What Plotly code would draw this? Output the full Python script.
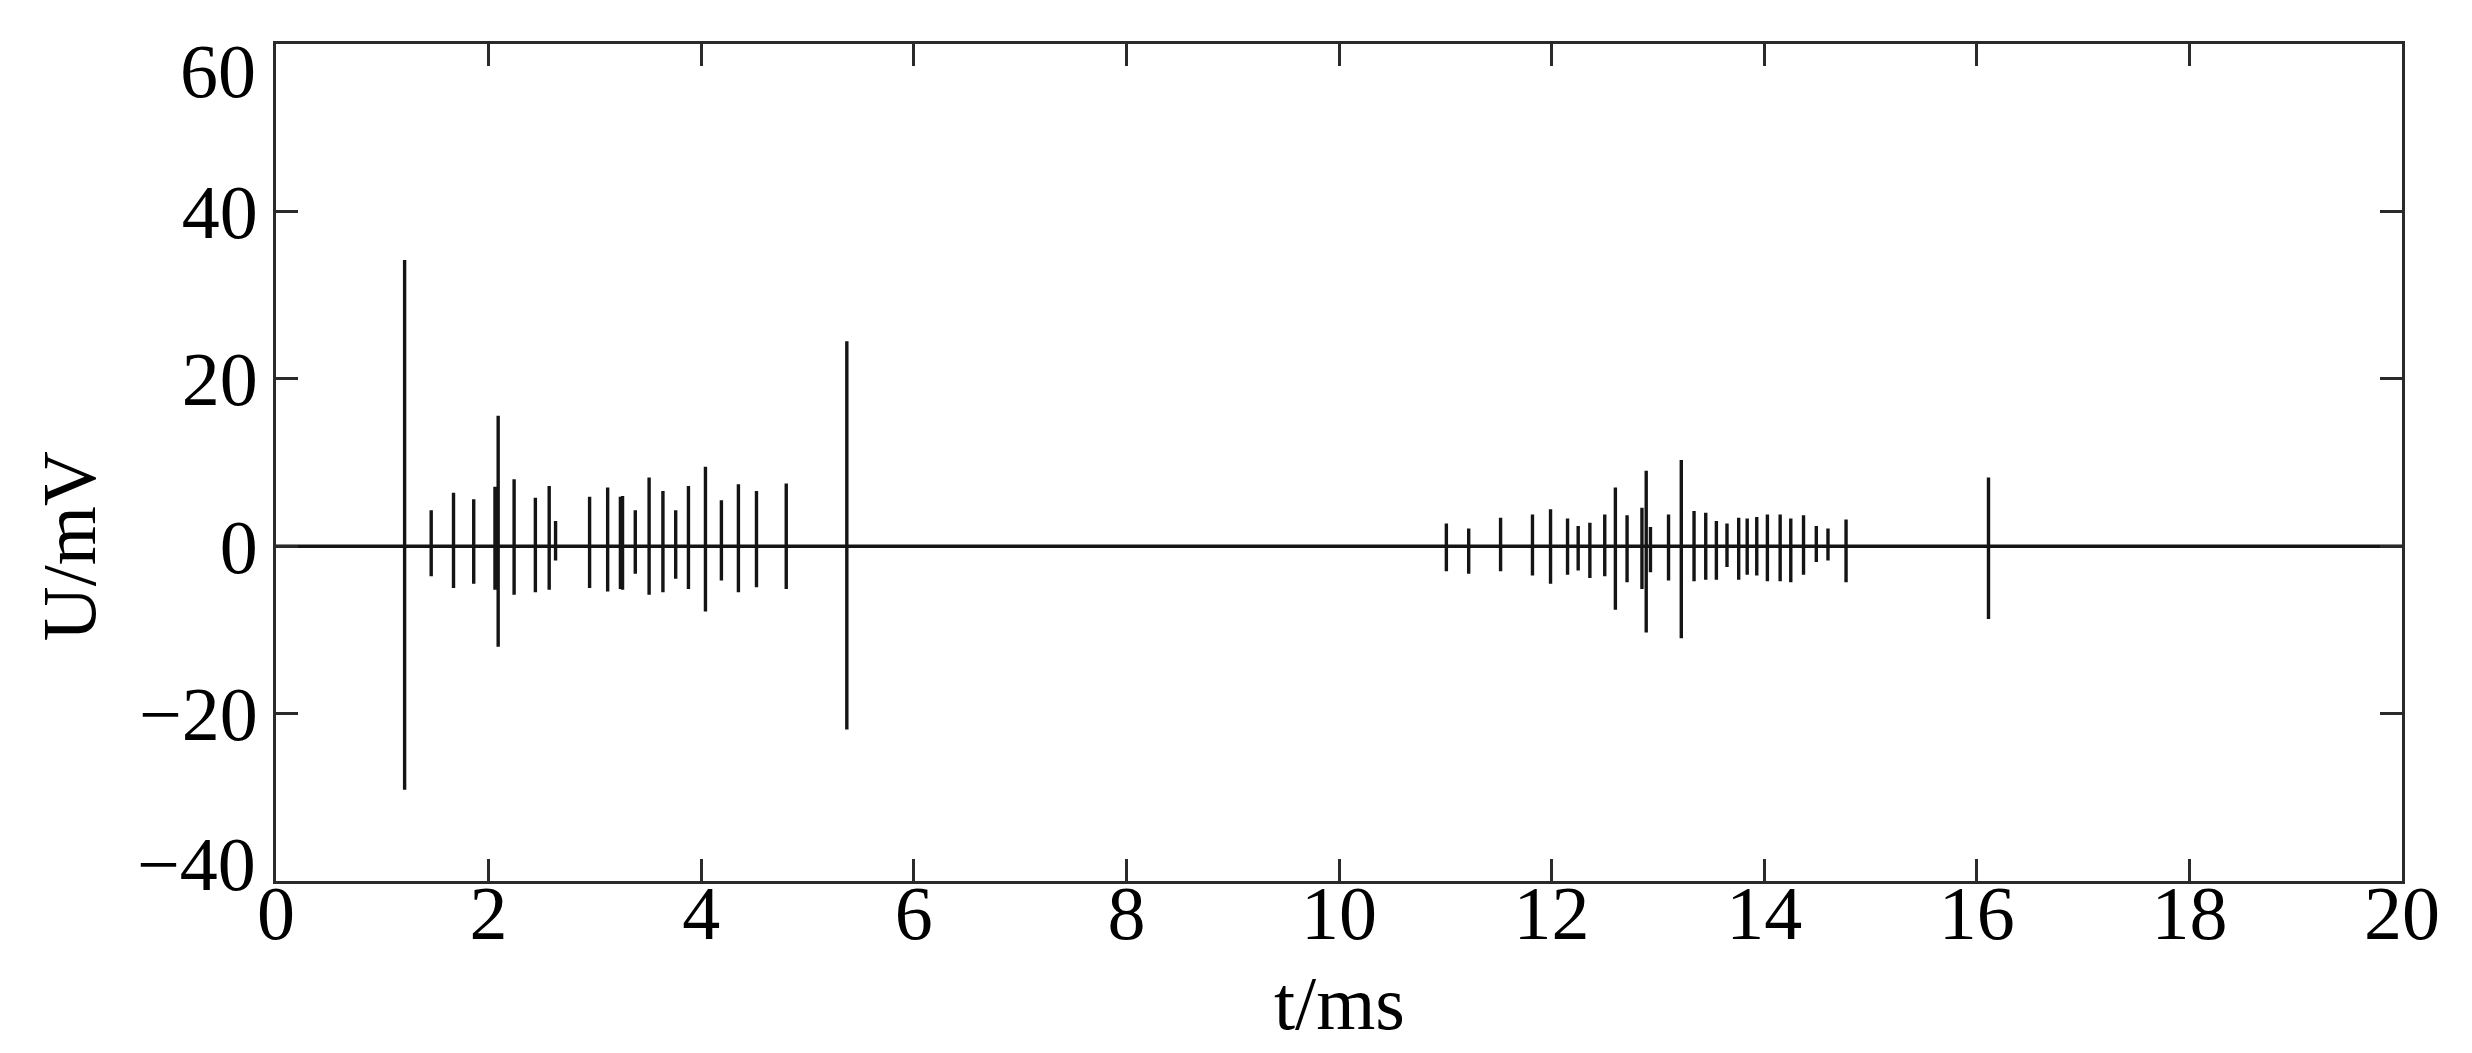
import plotly.graph_objects as go

# Spike events: time (ms), positive peak (mV), negative trough (mV)
spike_t = [1.21, 1.46, 1.67, 1.86, 2.06, 2.09, 2.24, 2.44, 2.57, 2.63, 2.95, 3.12, 3.24, 3.26,
           3.38, 3.51, 3.64, 3.76, 3.88, 4.04, 4.19, 4.35, 4.52, 4.80, 5.37,
           11.01, 11.22, 11.52, 11.82, 11.99, 12.15, 12.25, 12.36, 12.50, 12.60, 12.71, 12.85,
           12.89, 12.93, 13.10, 13.22, 13.34, 13.45, 13.55, 13.65, 13.76, 13.84, 13.93, 14.03,
           14.15, 14.25, 14.37, 14.49, 14.60, 14.77, 16.11]
spike_top = [34.2, 4.3, 6.4, 5.6, 7.1, 15.6, 8.0, 5.8, 7.2, 3.0, 5.9, 7.0, 5.9, 6.0,
             4.3, 8.2, 6.6, 4.3, 7.2, 9.5, 5.5, 7.4, 6.6, 7.5, 24.5,
             2.7, 2.1, 3.4, 3.8, 4.4, 3.3, 2.4, 2.8, 3.8, 7.0, 3.7, 4.6,
             9.0, 2.3, 3.8, 10.3, 4.2, 4.0, 3.0, 2.7, 3.4, 3.3, 3.5, 3.8,
             3.8, 3.3, 3.7, 2.4, 2.1, 3.2, 8.2]
spike_bot = [-29.1, -3.6, -5.0, -4.5, -5.2, -12.0, -5.8, -5.5, -5.2, -1.7, -5.0, -5.4, -5.1, -5.2,
             -3.3, -5.8, -5.5, -3.9, -5.1, -7.8, -4.1, -5.5, -4.9, -5.1, -21.9,
             -3.0, -3.3, -3.0, -3.5, -4.5, -3.4, -2.9, -3.8, -3.6, -7.6, -4.3, -5.1,
             -10.3, -3.1, -4.1, -11.0, -4.2, -4.0, -4.0, -2.5, -4.0, -3.4, -3.5, -4.2,
             -4.2, -4.3, -3.4, -1.9, -1.7, -4.3, -8.7]

t_start, t_end = 0.0, 20.0
baseline = 0.0

x_ticks = [0, 2, 4, 6, 8, 10, 12, 14, 16, 18, 20]
y_ticks = [-40, -20, 0, 20, 40, 60]
y_tick_text = ["\u221240", "\u221220", "0", "20", "40", "60"]

# Build the signal trace
xs = [t_start]
ys = [baseline]
for t, top, bot in zip(spike_t, spike_top, spike_bot):
    xs += [t, t, t, t]
    ys += [baseline, top, bot, baseline]
xs.append(t_end)
ys.append(baseline)

FONT = "Liberation Serif, Times New Roman, serif"
INK = "#141414"
TICKFONT = dict(family=FONT, size=76, color="black")

fig = go.Figure()
fig.add_trace(go.Scatter(x=xs, y=ys, mode="lines",
                         line=dict(color=INK, width=3.4), showlegend=False,
                         hoverinfo="skip"))

axis_common = dict(showline=True, linecolor="#2a2a2a", linewidth=3, mirror="allticks",
                   ticks="inside", ticklen=22, tickwidth=3, tickcolor="#2a2a2a",
                   showgrid=False, zeroline=False, ticklabeloverflow="allow",
                   automargin=False, tickfont=TICKFONT)

# End labels of the y axis are nudged inward (as in the original figure),
# so they are drawn as annotations; the inner ones come from the axis itself.
inner_text = [txt if v not in (y_ticks[0], y_ticks[-1]) else "" for v, txt in zip(y_ticks, y_tick_text)]

fig.update_xaxes(range=[0, 20], tickvals=x_ticks, ticklabelstandoff=-36, **axis_common)
fig.update_yaxes(range=[-40, 60], tickvals=y_ticks, ticktext=inner_text, **axis_common)

fig.add_annotation(text=y_tick_text[-1], xref="paper", yref="y", x=0, y=y_ticks[-1],
                   xanchor="right", yanchor="middle", xshift=-18, yshift=-27,
                   showarrow=False, font=TICKFONT)
fig.add_annotation(text=y_tick_text[0], xref="paper", yref="y", x=0, y=y_ticks[0],
                   xanchor="right", yanchor="middle", xshift=-18, yshift=17,
                   showarrow=False, font=TICKFONT)

fig.add_annotation(text="U/mV", textangle=-90, xref="paper", yref="y",
                   x=-0.0974, y=0, xanchor="center", yanchor="middle", showarrow=False,
                   font=dict(family=FONT, size=76, color="black"))
fig.add_annotation(text="t/ms", xref="x", yref="paper",
                   x=10, y=-0.146, xanchor="center", yanchor="middle", showarrow=False,
                   font=dict(family=FONT, size=76, color="black"))

fig.update_layout(width=2472, height=1053,
                  margin=dict(l=268, r=78, t=36, b=180),
                  plot_bgcolor="white", paper_bgcolor="white")

fig.write_html("out.html")
